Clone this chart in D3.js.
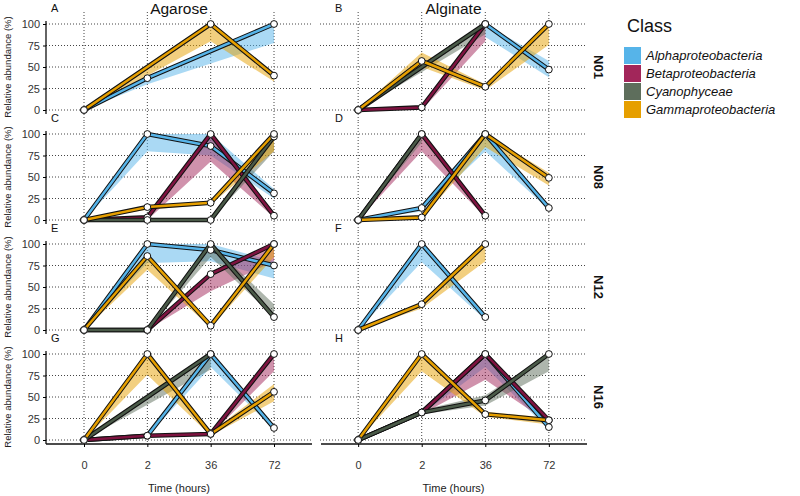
<!DOCTYPE html>
<html>
<head>
<meta charset="utf-8">
<script src="https://cdn.jsdelivr.net/npm/d3@7"></script>
<style>
  body { margin: 0; background: #fff; }
  text { font-family: "Liberation Sans", Arial, sans-serif; }
</style>
</head>
<body>
<div class="chart"></div>
<script>
var times = ['0', '2', '36', '72'];
var classes = ['Alphaproteobacteria', 'Betaproteobacteria', 'Cyanophyceae', 'Gammaproteobacteria'];
var columns = ['Agarose', 'Alginate'];
var rows = ['N01', 'N08', 'N12', 'N16'];
var letters = ['A', 'B', 'C', 'D', 'E', 'F', 'G', 'H'];
var yTicks = [0, 25, 50, 75, 100];

// one entry per class present: [class index, mean, low, high]  (null = no sample)
var panelA = [
  [0, [0, 37, null, 100], [0, 30, null, 78], [0, 37, null, 100]],
  [3, [0, null, 100, 40], [0, null, 80, 33], [0, null, 100, 43]]
];
var panelB = [
  [0, [null, null, 100, 47], [null, null, 85, 38], [null, null, 100, 57]],
  [1, [0, 3, 100, null], [0, 0, 80, null], [0, 3, 100, null]],
  [2, [0, null, 100, null], [0, null, 88, null], [0, null, 100, null]],
  [3, [0, 57, 27, 100], [0, 50, 23, 76], [0, 67, 30, 100]]
];
var panelC = [
  [0, [0, 100, 86, 31], [0, 80, 75, 25], [0, 100, 100, 36]],
  [1, [0, 3, 100, 5], [0, 0, 68, 3], [0, 3, 100, 8]],
  [2, [0, 0, 0, 97], [0, 0, 0, 80], [0, 0, 0, 97]],
  [3, [0, 15, 20, 100], [0, 12, 18, 80], [0, 16, 22, 100]]
];
var panelD = [
  [0, [0, 14, 100, 14], [0, 10, 80, 12], [0, 16, 100, 16]],
  [1, [0, 100, 5, null], [0, 80, 3, null], [0, 100, 6, null]],
  [2, [0, 100, null, null], [0, 90, null, null], [0, 100, null, null]],
  [3, [0, 3, 100, 49], [0, 2, 85, 40], [0, 4, 100, 55]]
];
var panelE = [
  [0, [0, 100, 93, 75], [0, 78, 80, 60], [0, 100, 100, 80]],
  [1, [0, 0, 65, 100], [0, 0, 45, 80], [0, 0, 65, 100]],
  [2, [0, 0, 100, 15], [0, 0, 85, 15], [0, 0, 100, 30]],
  [3, [0, 86, 5, 100], [0, 70, 3, 85], [0, 88, 7, 100]]
];
var panelF = [
  [0, [0, 100, 15, null], [0, 79, 12, null], [0, 100, 18, null]],
  [3, [0, 30, 100, null], [0, 25, 80, null], [0, 32, 100, null]]
];
var panelG = [
  [0, [0, 5, 100, 14], [0, 4, 85, 12], [0, 6, 100, 16]],
  [1, [0, 5, 7, 100], [0, 4, 6, 80], [0, 6, 8, 100]],
  [2, [0, null, 100, null], [0, null, 82, null], [0, null, 100, null]],
  [3, [0, 100, 7, 56], [0, 76, 5, 45], [0, 100, 9, 65]]
];
var panelH = [
  [0, [0, 32, 100, 15], [0, 30, 85, 12], [0, 34, 100, 18]],
  [1, [0, 32, 100, 23], [0, 30, 70, 20], [0, 35, 100, 25]],
  [2, [0, 32, 46, 100], [0, 30, 40, 80], [0, 35, 52, 100]],
  [3, [0, 100, 30, 23], [0, 80, 27, 18], [0, 100, 33, 26]]
];
var panels = [panelA, panelB, panelC, panelD, panelE, panelF, panelG, panelH];

var fillColors = ['#56B4E9', '#A2265A', '#5E6E5C', '#E69F00'];
var lineColors = ['#56B4E9', '#7E1340', '#4A5A48', '#E69F00'];

var w = 800, h = 496;
var colRange = [[46, 312], [320, 587]];

var svg = d3.select('.chart')
  .append('svg')
  .attr('width', w)
  .attr('height', h);

// legend
svg.append('text').attr('x', 627).attr('y', 32)
  .attr('font-size', 18).attr('fill', '#111').text('Class');
var leg = svg.selectAll('.leg')
  .data(classes)
  .enter()
  .append('g')
  .attr('transform', function(d, i) { return 'translate(624,' + (47 + i * 18) + ')'; });
leg.append('rect').attr('width', 17).attr('height', 17)
  .attr('fill', function(d, i) { return fillColors[i]; });
leg.append('text').attr('x', 22).attr('y', 13)
  .attr('font-size', 13).attr('font-style', 'italic').attr('fill', '#111')
  .text(function(d) { return d; });

// column titles
columns.forEach(function(c, ci) {
  svg.append('text')
    .attr('x', (colRange[ci][0] + colRange[ci][1]) / 2)
    .attr('y', 14)
    .attr('text-anchor', 'middle')
    .attr('font-size', 15.5)
    .attr('fill', '#111')
    .text(c);
  svg.append('text')
    .attr('x', (colRange[ci][0] + colRange[ci][1]) / 2)
    .attr('y', 492)
    .attr('text-anchor', 'middle')
    .attr('font-size', 11)
    .attr('fill', '#222')
    .text('Time (hours)');
});

panels.forEach(function(panel, p) {
  var ri = Math.floor(p / 2), ci = p % 2;
  var y0 = 110 + ri * 110;
  var x = d3.scalePoint().domain(times).range(colRange[ci]).padding(0.6);
  var y = d3.scaleLinear().domain([0, 100]).range([y0, y0 - 86]);
  var g = svg.append('g');

  // grid
  g.selectAll('.hg').data(yTicks).enter().append('line')
    .attr('x1', colRange[ci][0]).attr('x2', colRange[ci][1])
    .attr('y1', function(d) { return y(d); }).attr('y2', function(d) { return y(d); })
    .attr('stroke', '#444').attr('stroke-width', 1).attr('stroke-dasharray', '1,2');
  g.selectAll('.vg').data(times).enter().append('line')
    .attr('x1', function(d) { return x(d); }).attr('x2', function(d) { return x(d); })
    .attr('y1', y(100) - 12).attr('y2', ri === 3 ? y(0) + 4 : y(0) + 12)
    .attr('stroke', '#444').attr('stroke-width', 1).attr('stroke-dasharray', '1,2');

  // left axis (first column only)
  if (ci === 0) {
    var ax = g.append('g').attr('transform', 'translate(' + colRange[0][0] + ',0)')
      .call(d3.axisLeft(y).tickValues(yTicks).tickSize(3).tickPadding(3));
    ax.select('.domain').attr('d', 'M0,' + (y(100) - 3) + 'V' + (y(0) + 4)).attr('stroke', '#111').attr('stroke-width', 1.3);
    ax.selectAll('text').attr('font-size', 11).attr('fill', '#333').style('font-family', 'Liberation Sans, Arial, sans-serif');
    svg.append('text')
      .attr('transform', 'translate(11,' + (y0 - 43) + ') rotate(-90)')
      .attr('text-anchor', 'middle')
      .attr('font-size', 9.5)
      .attr('fill', '#222')
      .text('Relative abundance (%)');
  } else {
    svg.append('text')
      .attr('transform', 'translate(594,' + (y0 - 43) + ') rotate(90)')
      .attr('text-anchor', 'middle')
      .attr('font-size', 13)
      .attr('font-weight', 'bold')
      .attr('fill', '#111')
      .text(rows[ri]);
  }

  // bottom axis (last row only)
  if (ri === 3) {
    var bx = g.append('g').attr('transform', 'translate(0,' + (y0 + 4) + ')')
      .call(d3.axisBottom(x).tickSize(3).tickPadding(14));
    bx.select('.domain').attr('d', 'M' + (colRange[ci][0] + (ci ? 1 : 0)) + ',0H' + colRange[ci][1]).attr('stroke', '#111').attr('stroke-width', 1.3);
    bx.selectAll('text').attr('font-size', 11).attr('fill', '#333').style('font-family', 'Liberation Sans, Arial, sans-serif');
  }

  // panel letter
  svg.append('text')
    .attr('x', ci === 0 ? 51 : 335)
    .attr('y', y0 - 98)
    .attr('font-size', 11)
    .attr('fill', '#111')
    .text(letters[p]);

  function pts(s) {
    return times.map(function(t, i) {
      return { t: t, m: s[1][i], lo: s[2][i], hi: s[3][i] };
    }).filter(function(d) { return d.m !== null; });
  }

  var area = d3.area()
    .x(function(d) { return x(d.t); })
    .y0(function(d) { return y(d.lo); })
    .y1(function(d) { return y(d.hi); });
  var line = d3.line()
    .x(function(d) { return x(d.t); })
    .y(function(d) { return y(d.m); });

  g.selectAll('.rib').data(panel).enter().append('path')
    .attr('d', function(s) { return area(pts(s)); })
    .attr('fill', function(s) { return fillColors[s[0]]; })
    .attr('fill-opacity', 0.5);

  panel.forEach(function(s) {
    var d = pts(s);
    g.append('path').attr('d', line(d)).attr('fill', 'none')
      .attr('stroke', '#111').attr('stroke-width', 4.6).attr('stroke-linejoin', 'round');
    g.append('path').attr('d', line(d)).attr('fill', 'none')
      .attr('stroke', lineColors[s[0]]).attr('stroke-width', 2.5).attr('stroke-linejoin', 'round');
  });

  panel.forEach(function(s) {
    g.selectAll(null).data(pts(s)).enter().append('circle')
      .attr('cx', function(d) { return x(d.t); })
      .attr('cy', function(d) { return y(d.m); })
      .attr('r', 3.4)
      .attr('fill', '#fff')
      .attr('stroke', '#111')
      .attr('stroke-width', 1);
  });
});
</script>
</body>
</html>
